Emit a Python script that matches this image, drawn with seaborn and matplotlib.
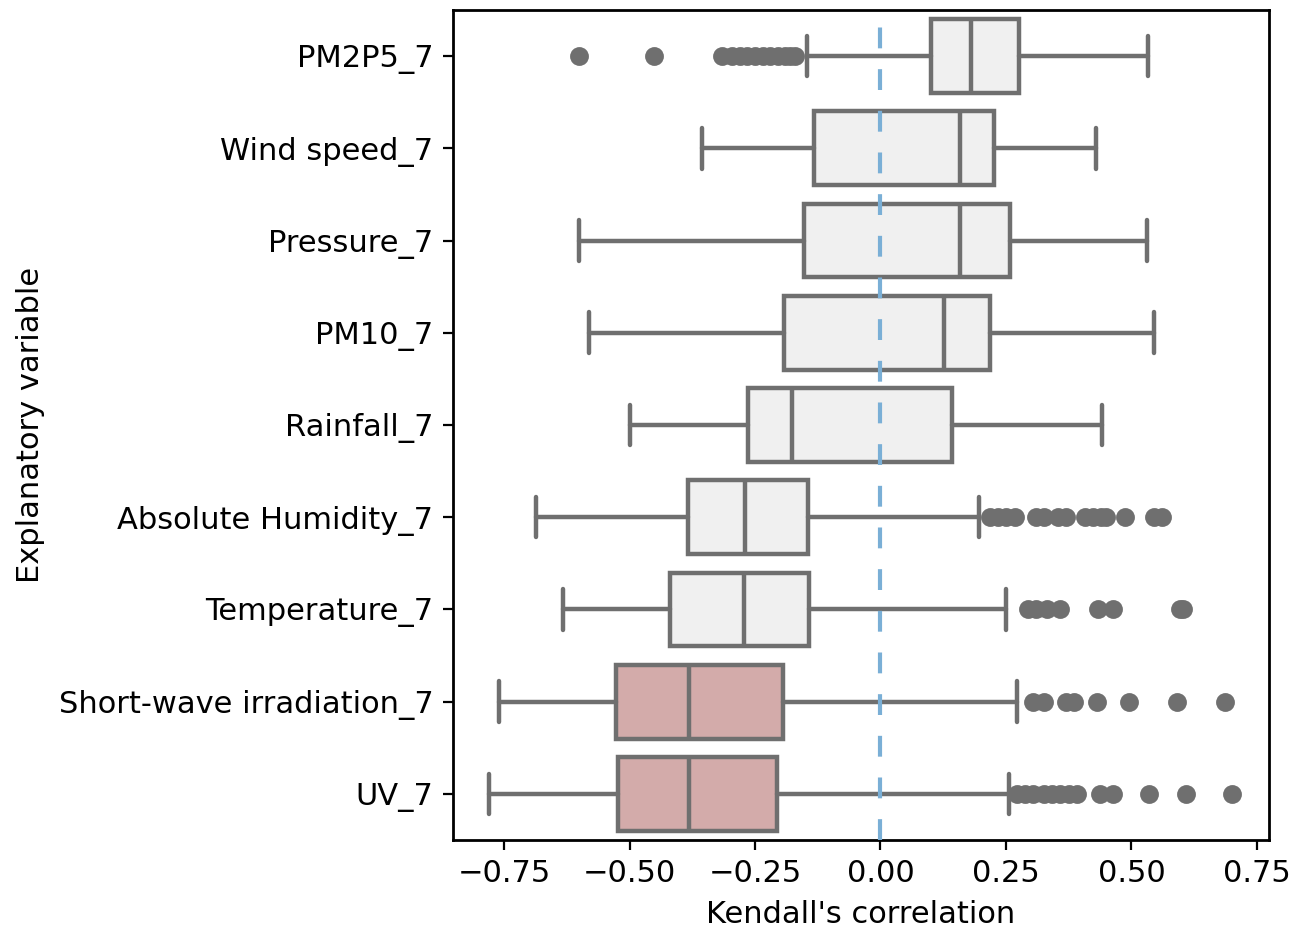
import matplotlib
matplotlib.use("Agg")
import matplotlib.pyplot as plt
import seaborn as sns
import pandas as pd

# ---- data ----
variables = ["PM2P5_7", "Wind speed_7", "Pressure_7", "PM10_7", "Rainfall_7",
             "Absolute Humidity_7", "Temperature_7", "Short-wave irradiation_7", "UV_7"]
whisker_low = [-0.147, -0.355, -0.601, -0.581, -0.500, -0.687, -0.633, -0.760, -0.779]
q1 = [0.101, -0.133, -0.153, -0.193, -0.263, -0.384, -0.420, -0.527, -0.523]
median = [0.181, 0.158, 0.158, 0.126, -0.177, -0.269, -0.271, -0.382, -0.382]
q3 = [0.275, 0.226, 0.259, 0.219, 0.143, -0.144, -0.142, -0.195, -0.206]
whisker_high = [0.532, 0.429, 0.531, 0.544, 0.442, 0.196, 0.250, 0.272, 0.256]
outliers = {
    "PM2P5_7": [-0.601, -0.451, -0.315, -0.295, -0.28, -0.265, -0.25, -0.235,
                -0.22, -0.205, -0.19, -0.18, -0.17],
    "Wind speed_7": [],
    "Pressure_7": [],
    "PM10_7": [],
    "Rainfall_7": [],
    "Absolute Humidity_7": [0.218, 0.234, 0.250, 0.267, 0.310, 0.326, 0.353, 0.369,
                            0.407, 0.423, 0.439, 0.450, 0.488, 0.545, 0.561],
    "Temperature_7": [0.294, 0.310, 0.331, 0.358, 0.434, 0.463, 0.596, 0.603],
    "Short-wave irradiation_7": [0.304, 0.326, 0.369, 0.385, 0.431, 0.496, 0.591, 0.686],
    "UV_7": [0.272, 0.288, 0.304, 0.326, 0.342, 0.358, 0.375, 0.391, 0.437, 0.463,
             0.534, 0.609, 0.700],
}
highlighted = ["Short-wave irradiation_7", "UV_7"]
xticks = [-0.75, -0.50, -0.25, 0.00, 0.25, 0.50, 0.75]

# ---- style ----
sns.set_style("ticks")
plt.rcParams["font.family"] = ["DejaVu Sans"]
plt.rcParams["font.size"] = 11
for k in ["text.color", "axes.labelcolor", "xtick.color", "ytick.color",
          "axes.edgecolor"]:
    plt.rcParams[k] = "black"

line_col = "#6f6f6f"
light_face = "#f0f0f0"
pink_face = "#d3abaa"

fig = plt.figure(figsize=(6.525, 4.65), dpi=200)
ax = fig.add_axes([0.347, 0.0968, 0.6254, 0.8925])

stats = []
for i, v in enumerate(variables):
    stats.append(dict(label=v, whislo=whisker_low[i], q1=q1[i], med=median[i],
                      q3=q3[i], whishi=whisker_high[i], fliers=[]))

positions = list(range(len(variables)))
bp = ax.bxp(stats, positions=positions, vert=False, widths=0.8, patch_artist=True,
            showfliers=False, capwidths=0.44,
            boxprops=dict(edgecolor=line_col, linewidth=1.6),
            whiskerprops=dict(color=line_col, linewidth=1.6),
            capprops=dict(color=line_col, linewidth=1.6),
            medianprops=dict(color=line_col, linewidth=1.6))
for patch, v in zip(bp["boxes"], variables):
    patch.set_facecolor(pink_face if v in highlighted else light_face)

# outliers drawn by seaborn from long-form data
rows = [(v, x) for v in variables for x in outliers[v]]
df_out = pd.DataFrame(rows, columns=["variable", "value"])
df_out["pos"] = df_out["variable"].map({v: i for i, v in enumerate(variables)})
sns.scatterplot(data=df_out, x="value", y="pos", ax=ax, color=line_col,
                s=46, linewidth=0, legend=False, zorder=3)

ax.axvline(0, color="#7aafd6", linestyle=(0, (5, 5)), linewidth=1.5, zorder=4)

ax.set_yticks(positions)
ax.set_yticklabels(variables)
ax.set_ylim(8.5, -0.5)
ax.set_xlim(-0.852, 0.774)
ax.set_xticks(xticks)
ax.set_xticklabels([f"{t:.2f}".replace("-", "\u2212") for t in xticks])
ax.set_xlabel("Kendall's correlation", labelpad=4)
ax.set_ylabel("Explanatory variable", labelpad=5)
for s in ax.spines.values():
    s.set_color("black")
    s.set_linewidth(1.0)

fig.savefig("out.png", dpi=200)
